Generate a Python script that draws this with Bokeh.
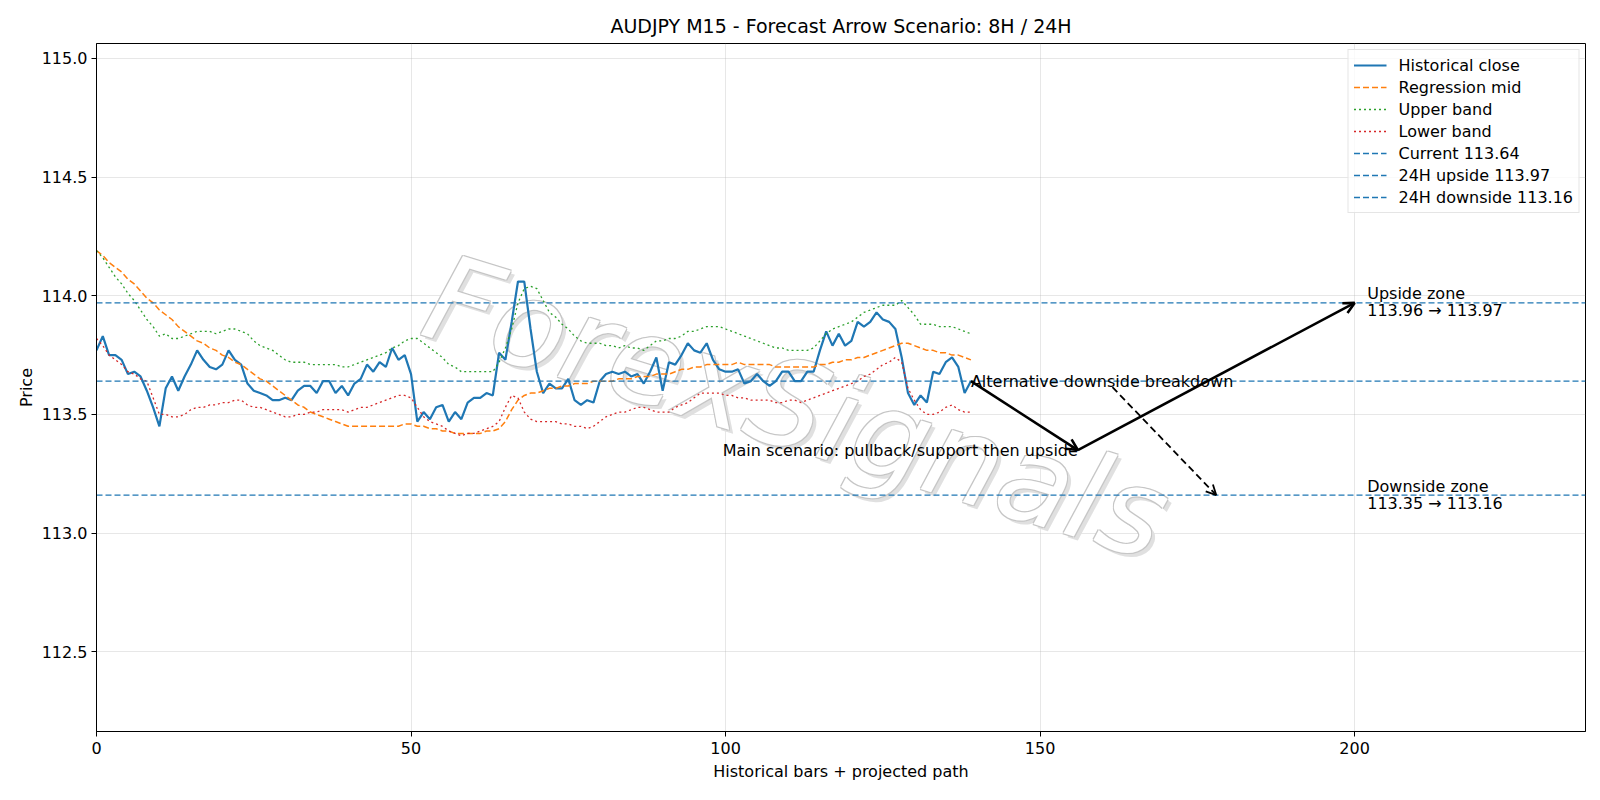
from bokeh.plotting import figure
from bokeh.models import Range1d, Legend, LegendItem, Arrow, OpenHead, FixedTicker, NumeralTickFormatter
from bokeh.embed import file_html
from bokeh.resources import INLINE
from bokeh.core.properties import value

# --- AUDJPY M15 closes (last 140 bars) -------------------------------------
close = [
    113.77, 113.83, 113.75, 113.75, 113.73, 113.67, 113.68, 113.66, 113.60, 113.53,
    113.45, 113.61, 113.66, 113.60, 113.66, 113.71, 113.77, 113.73, 113.70, 113.69,
    113.71, 113.77, 113.73, 113.71, 113.63, 113.60, 113.59, 113.58, 113.56, 113.56,
    113.57, 113.56, 113.60, 113.62, 113.62, 113.59, 113.64, 113.64, 113.59, 113.62,
    113.58, 113.63, 113.65, 113.71, 113.68, 113.72, 113.70, 113.78, 113.73, 113.75,
    113.67, 113.47, 113.51, 113.48, 113.53, 113.54, 113.47, 113.51, 113.48, 113.55,
    113.57, 113.57, 113.59, 113.58, 113.76, 113.73, 113.89, 114.06, 114.06, 113.86,
    113.68, 113.59, 113.63, 113.61, 113.61, 113.65, 113.56, 113.54, 113.56, 113.55,
    113.64, 113.67, 113.68, 113.67, 113.68, 113.66, 113.67, 113.63, 113.68, 113.74,
    113.60, 113.72, 113.71, 113.75, 113.80, 113.77, 113.76, 113.80, 113.73, 113.69,
    113.68, 113.68, 113.69, 113.63, 113.64, 113.67, 113.64, 113.62, 113.64, 113.68,
    113.68, 113.64, 113.64, 113.68, 113.68, 113.77, 113.85, 113.79, 113.84, 113.79,
    113.81, 113.89, 113.87, 113.89, 113.93, 113.90, 113.89, 113.86, 113.74, 113.59,
    113.54, 113.58, 113.55, 113.68, 113.67, 113.72, 113.74, 113.70, 113.59, 113.64,
]

reg_mid = [
    114.19, 114.17, 114.14, 114.12, 114.10, 114.07, 114.05, 114.02, 113.99, 113.97,
    113.94, 113.92, 113.90, 113.87, 113.85, 113.83, 113.81, 113.80, 113.78, 113.77,
    113.75, 113.74, 113.72, 113.71, 113.69, 113.67, 113.65, 113.64, 113.62, 113.60,
    113.58, 113.56, 113.54, 113.53, 113.51, 113.50, 113.49, 113.48, 113.47, 113.46,
    113.45, 113.45, 113.45, 113.45, 113.45, 113.45, 113.45, 113.45, 113.45, 113.46,
    113.46, 113.45, 113.45, 113.44, 113.44, 113.43, 113.43, 113.42, 113.42, 113.42,
    113.42, 113.42, 113.43, 113.43, 113.44, 113.47, 113.52, 113.56, 113.58, 113.59,
    113.59, 113.60, 113.61, 113.61, 113.62, 113.62, 113.63, 113.63, 113.63, 113.64,
    113.64, 113.64, 113.64, 113.65, 113.65, 113.65, 113.66, 113.66, 113.66, 113.67,
    113.67, 113.67, 113.68, 113.69, 113.69, 113.70, 113.70, 113.71, 113.71, 113.71,
    113.71, 113.71, 113.72, 113.71, 113.71, 113.71, 113.71, 113.71, 113.70, 113.70,
    113.70, 113.70, 113.70, 113.70, 113.70, 113.71, 113.71, 113.72, 113.72, 113.73,
    113.73, 113.74, 113.74, 113.75, 113.76, 113.77, 113.78, 113.79, 113.80, 113.80,
    113.79, 113.78, 113.77, 113.77, 113.76, 113.76, 113.75, 113.75, 113.74, 113.73,
]

upper_band = [
    114.19, 114.16, 114.12, 114.08, 114.05, 114.01, 113.98, 113.94, 113.90, 113.87,
    113.83, 113.84, 113.82, 113.82, 113.83, 113.84, 113.85, 113.85, 113.85, 113.84,
    113.85, 113.86, 113.86, 113.85, 113.84, 113.81, 113.79, 113.78, 113.77, 113.75,
    113.73, 113.72, 113.72, 113.72, 113.71, 113.71, 113.71, 113.71, 113.71, 113.70,
    113.70, 113.71, 113.72, 113.73, 113.74, 113.75, 113.76, 113.78, 113.79, 113.81,
    113.82, 113.82, 113.80, 113.78, 113.76, 113.74, 113.71, 113.70, 113.68, 113.68,
    113.68, 113.68, 113.68, 113.68, 113.72, 113.78, 113.86, 113.97, 114.03, 114.04,
    114.03, 113.98, 113.93, 113.91, 113.88, 113.86, 113.83, 113.81, 113.80, 113.80,
    113.80, 113.79, 113.79, 113.78, 113.79, 113.78, 113.78, 113.77, 113.79, 113.81,
    113.81, 113.82, 113.82, 113.83, 113.85, 113.85, 113.86, 113.87, 113.87, 113.87,
    113.86, 113.85, 113.84, 113.83, 113.82, 113.81, 113.80, 113.79, 113.78, 113.78,
    113.77, 113.77, 113.77, 113.77, 113.78, 113.81, 113.84, 113.86, 113.87, 113.88,
    113.89, 113.91, 113.93, 113.94, 113.95, 113.96, 113.96, 113.96, 113.98, 113.95,
    113.92, 113.88, 113.88, 113.88, 113.87, 113.87, 113.87, 113.86, 113.85, 113.84,
]

lower_band = [
    113.82, 113.79, 113.75, 113.73, 113.71, 113.68, 113.67, 113.65, 113.64, 113.57,
    113.50, 113.50, 113.49, 113.49, 113.50, 113.52, 113.53, 113.53, 113.54, 113.54,
    113.55, 113.55, 113.56, 113.56, 113.54, 113.53, 113.53, 113.52, 113.51, 113.50,
    113.49, 113.49, 113.50, 113.50, 113.51, 113.51, 113.52, 113.52, 113.52, 113.52,
    113.51, 113.52, 113.53, 113.53, 113.54, 113.55, 113.56, 113.57, 113.58, 113.58,
    113.57, 113.53, 113.49, 113.47, 113.46, 113.45, 113.43, 113.42, 113.41, 113.42,
    113.42, 113.43, 113.44, 113.45, 113.47, 113.53, 113.58, 113.57, 113.51, 113.48,
    113.47, 113.47, 113.47, 113.47, 113.46, 113.46, 113.45, 113.45, 113.44, 113.45,
    113.47, 113.49, 113.50, 113.51, 113.51, 113.52, 113.53, 113.53, 113.52, 113.51,
    113.51, 113.51, 113.53, 113.54, 113.55, 113.57, 113.59, 113.59, 113.59, 113.59,
    113.58, 113.58, 113.57, 113.57, 113.56, 113.56, 113.56, 113.56, 113.55, 113.55,
    113.56, 113.56, 113.55, 113.56, 113.57, 113.58, 113.59, 113.60, 113.61, 113.62,
    113.63, 113.64, 113.66, 113.67, 113.69, 113.71, 113.72, 113.74, 113.72, 113.61,
    113.56, 113.52, 113.50, 113.50, 113.51, 113.53, 113.54, 113.52, 113.51, 113.51,
]

bars = list(range(len(close)))

# --- levels and projected scenario -----------------------------------------
current_level = 113.64
upside_level = 113.97
downside_level = 113.16
upside_zone = (113.96, 113.97)
downside_zone = (113.35, 113.16)

main_path_x = [139, 156, 200]
main_path_y = [113.64, 113.35, 113.97]
alt_path_x = [161.5, 178]
alt_path_y = [113.615, 113.16]
alt_label_pos = (139, 113.64)
zone_label_x = 202
watermark_pos = (111.3, 113.53)

x_ticks = [0, 50, 100, 150, 200]
y_ticks = [112.5, 113.0, 113.5, 114.0, 114.5, 115.0]
x_limits = (0, 236.7)
y_limits = (112.164, 115.063)

BLUE, ORANGE, GREEN, RED = "#1f77b4", "#ff7f0e", "#2ca02c", "#d62728"
FONT = "DejaVu Sans"
FS = "16px"

p = figure(
    width=1600, height=800, output_backend="svg", toolbar_location=None,
    x_range=Range1d(*x_limits), y_range=Range1d(*y_limits),
    min_border_left=96, min_border_right=15, min_border_top=43, min_border_bottom=69,
    title="AUDJPY M15 - Forecast Arrow Scenario: 8H / 24H",
)
p.background_fill_color = "white"
p.border_fill_color = "white"
p.outline_line_color = "black"
p.outline_line_width = 1
p.outline_line_alpha = 1

p.title.align = "center"
p.title.text_font = FONT
p.title.text_font_size = "19px"
p.title.text_font_style = "normal"
p.title.text_color = "black"
p.title.standoff = 14

for ax in (p.xaxis, p.yaxis):
    ax.axis_label_text_font = FONT
    ax.axis_label_text_font_size = FS
    ax.axis_label_text_font_style = "normal"
    ax.axis_label_text_color = "black"
    ax.major_label_text_font = FONT
    ax.major_label_text_font_size = FS
    ax.major_label_text_color = "black"
    ax.major_tick_out = 5
    ax.major_tick_in = 0
    ax.minor_tick_out = 0
    ax.minor_tick_in = 0
    ax.axis_line_color = "black"
    ax.major_tick_line_color = "black"

p.xaxis.axis_label = "Historical bars + projected path"
p.yaxis.axis_label = "Price"
p.xaxis.ticker = FixedTicker(ticks=x_ticks)
p.yaxis.ticker = FixedTicker(ticks=y_ticks)
p.yaxis.formatter = NumeralTickFormatter(format="0.0")
p.xaxis.major_label_standoff = 5
p.yaxis.major_label_standoff = 4
p.xaxis.axis_label_standoff = 5
p.yaxis.axis_label_standoff = 3

p.grid.grid_line_color = "#b0b0b0"
p.grid.grid_line_alpha = 0.3
p.grid.grid_line_width = 1

# hollow, shadowed watermark behind the data
wm = dict(x=[watermark_pos[0]], y=[watermark_pos[1]], text=["ForexSignals"], angle=-0.30,
          text_font=value(FONT), text_font_size="120px", text_font_style="italic",
          text_align="center", text_baseline="middle")
p.text(x_offset=4, y_offset=4, text_color="#e0e0e0", text_alpha=1.0, **wm)
for dx, dy in [(-1.0, -1.0), (1.0, -1.0), (-1.0, 1.0), (1.0, 1.0)]:
    p.text(x_offset=dx, y_offset=dy, text_color="#c6c6c6", text_alpha=1.0, **wm)
p.text(text_color="white", text_alpha=1.0, **wm)

r_close = p.line(bars, close, line_color=BLUE, line_width=2.2)
r_mid = p.line(bars, reg_mid, line_color=ORANGE, line_width=1.5, line_dash="6 3")
r_up = p.line(bars, upper_band, line_color=GREEN, line_width=1.3, line_dash="2 3")
r_lo = p.line(bars, lower_band, line_color=RED, line_width=1.3, line_dash="2 3")

span_x = list(x_limits)
r_cur = p.line(span_x, [current_level] * 2, line_color=BLUE, line_width=1.3, line_dash="6 3")
r_upl = p.line(span_x, [upside_level] * 2, line_color=BLUE, line_width=1.3, line_dash="6 3")
r_dnl = p.line(span_x, [downside_level] * 2, line_color=BLUE, line_width=1.3, line_dash="6 3")

# main scenario: pullback then push to the upside zone
for i in range(len(main_path_x) - 1):
    p.add_layout(Arrow(
        end=OpenHead(size=11, line_width=2.6, line_color="black"),
        x_start=main_path_x[i], y_start=main_path_y[i],
        x_end=main_path_x[i + 1], y_end=main_path_y[i + 1],
        line_width=2.6, line_color="black"))

# alternative scenario: downside breakdown
p.add_layout(Arrow(
    end=OpenHead(size=10, line_width=1.8, line_color="black"),
    x_start=alt_path_x[0], y_start=alt_path_y[0],
    x_end=alt_path_x[1], y_end=alt_path_y[1],
    line_width=1.8, line_color="black", line_dash="7 4"))

txt = dict(text_font=value(FONT), text_font_size=FS, text_color="black")
p.text(x=[alt_label_pos[0]], y=[alt_label_pos[1]], text=["Alternative downside breakdown"],
       text_align="left", text_baseline="alphabetic", **txt)
p.text(x=[main_path_x[1]], y=[main_path_y[1]], text=["Main scenario: pullback/support then upside"],
       text_align="right", text_baseline="alphabetic", **txt)

p.text(x=[zone_label_x], y=[upside_level], text=["Upside zone"], y_offset=-9,
       text_align="left", text_baseline="middle", **txt)
p.text(x=[zone_label_x], y=[upside_level],
       text=[f"{upside_zone[0]:.2f} \u2192 {upside_zone[1]:.2f}"], y_offset=8,
       text_align="left", text_baseline="middle", **txt)
p.text(x=[zone_label_x], y=[downside_level], text=["Downside zone"], y_offset=-9,
       text_align="left", text_baseline="middle", **txt)
p.text(x=[zone_label_x], y=[downside_level],
       text=[f"{downside_zone[0]:.2f} \u2192 {downside_zone[1]:.2f}"], y_offset=8,
       text_align="left", text_baseline="middle", **txt)

legend = Legend(items=[
    LegendItem(label="Historical close", renderers=[r_close]),
    LegendItem(label="Regression mid", renderers=[r_mid]),
    LegendItem(label="Upper band", renderers=[r_up]),
    LegendItem(label="Lower band", renderers=[r_lo]),
    LegendItem(label=f"Current {current_level:.2f}", renderers=[r_cur]),
    LegendItem(label=f"24H upside {upside_level:.2f}", renderers=[r_upl]),
    LegendItem(label=f"24H downside {downside_level:.2f}", renderers=[r_dnl]),
], location="top_right")
legend.label_text_font = FONT
legend.label_text_font_size = FS
legend.label_text_color = "black"
legend.label_height = 20
legend.glyph_height = 20
legend.glyph_width = 33
legend.spacing = 2
legend.padding = 5
legend.margin = 6
legend.label_standoff = 12
legend.border_line_color = "#cccccc"
legend.border_line_width = 1
legend.background_fill_alpha = 0.8
p.add_layout(legend)

open("out.html", "w").write(file_html(p, INLINE))
